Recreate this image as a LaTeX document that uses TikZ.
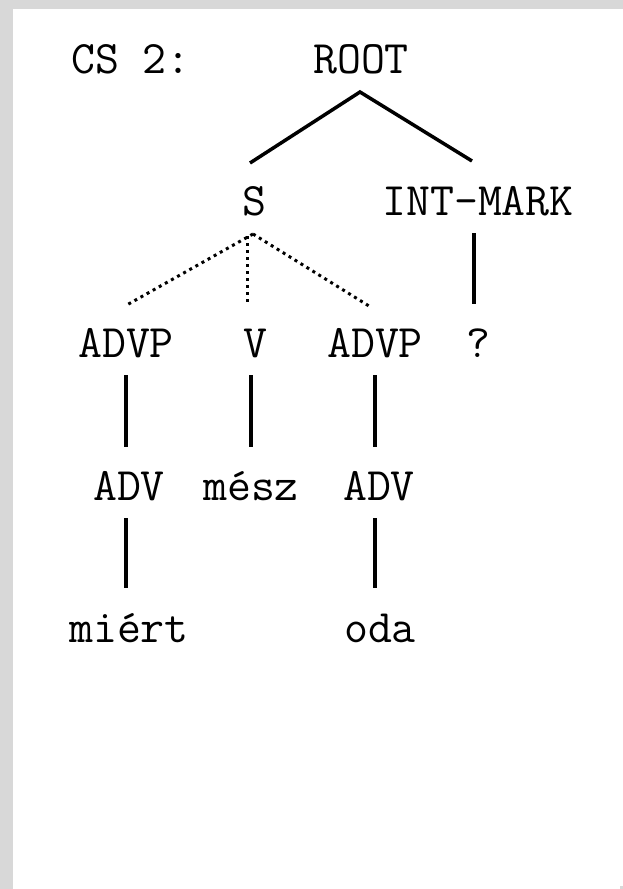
\documentclass[tikz,border=0pt]{standalone}
\usepackage{fontspec}
\definecolor{bord}{HTML}{D8D8D8}
\begin{document}
\begin{tikzpicture}[x=1pt,y=-1pt,
  lbl/.style={font=\fontsize{46.5}{50}\selectfont\ttfamily, anchor=base, inner sep=0pt},
  branch/.style={line width=3.5pt},
  dotbranch/.style={line width=3pt, dash pattern=on 3pt off 4pt}]
\useasboundingbox (0,0) rectangle (623,889);
\fill[white] (-2,-2) rectangle (625,891);
\fill[bord] (-2,-2) rectangle (13,891);
\fill[bord] (-2,-2) rectangle (625,9);
\fill[bord] (620,886) rectangle (625,891);
% labels
\node[lbl] (cs) at (131,73) {CS 2:};
\node[lbl] (root) at (361,73) {ROOT};
\node[lbl] (s) at (254,215) {S};
\node[lbl] (intmark) at (478,215) {INT-MARK};
\node[lbl] (advp1) at (126,357) {ADVP};
\node[lbl] (v) at (255,357) {V};
\node[lbl] (advp2) at (375,357) {ADVP};
\node[lbl] (q) at (478,357) {?};
\node[lbl] (adv1) at (129,500) {ADV};
\node[lbl] (mesz) at (251,500) {mész};
\node[lbl] (adv2) at (379,500) {ADV};
\node[lbl] (miert) at (129,642) {miért};
\node[lbl] (oda) at (380,642) {oda};
% connector end points
\coordinate (root-b) at (360,92);
\coordinate (s-t) at (250,163);
\coordinate (intmark-t) at (472,161);
\coordinate (s-b) at (253,234);
\coordinate (s-bv) at (247,236);
\coordinate (advp1-t) at (125,306);
\coordinate (v-t) at (247,304);
\coordinate (advp2-t) at (369,306);
\coordinate (intmark-b) at (474,233);
\coordinate (q-t) at (474,304);
\coordinate (advp1-b) at (126,375);
\coordinate (adv1-t) at (126,447);
\coordinate (v-b) at (251,375);
\coordinate (mesz-t) at (251,447);
\coordinate (advp2-b) at (375,375);
\coordinate (adv2-t) at (375,447);
\coordinate (adv1-b) at (126,518);
\coordinate (miert-t) at (126,588);
\coordinate (adv2-b) at (375,518);
\coordinate (oda-t) at (375,588);
% connectors
\draw[branch] (s-t) -- (root-b) -- (intmark-t);
\draw[dotbranch] (s-b) -- (advp1-t);
\draw[dotbranch] (s-bv) -- (v-t);
\draw[dotbranch] (s-b) -- (advp2-t);
\draw[branch] (intmark-b) -- (q-t);
\draw[branch] (advp1-b) -- (adv1-t);
\draw[branch] (v-b) -- (mesz-t);
\draw[branch] (advp2-b) -- (adv2-t);
\draw[branch] (adv1-b) -- (miert-t);
\draw[branch] (adv2-b) -- (oda-t);
\end{tikzpicture}
\end{document}
